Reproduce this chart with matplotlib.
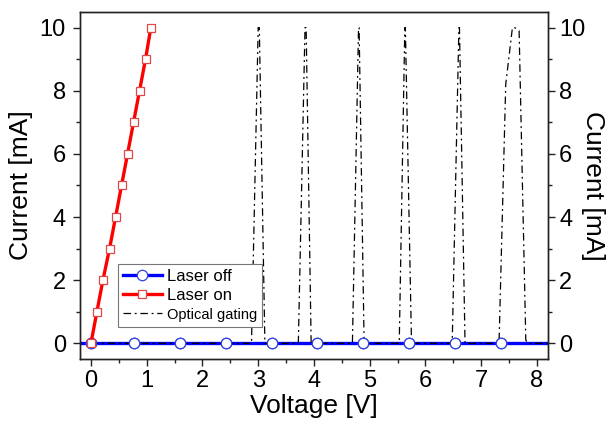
import matplotlib.pyplot as plt
from matplotlib.ticker import MultipleLocator

plt.rcParams['font.family'] = ['Liberation Sans', 'DejaVu Sans']

# laser off: flat zero current, markers
off_v = [-0.3, 0.0, 0.78, 1.59, 2.42, 3.24, 4.05, 4.88, 5.70, 6.53, 7.35, 8.5]
off_i = [0, 0, 0, 0, 0, 0, 0, 0, 0, 0, 0, 0]

# laser on
on_v = [0.0, 0.107, 0.215, 0.334, 0.442, 0.549, 0.657, 0.764, 0.872, 0.979, 1.075]
on_i = [0, 1, 2, 3, 4, 5, 6, 7, 8, 9, 10]

# optical gating spikes
gate_v = [0.0, 2.88, 3.00, 3.02, 3.12,
          3.72, 3.84, 3.86, 3.95,
          4.69, 4.80, 4.81, 4.90,
          5.53, 5.63, 5.64, 5.75,
          6.48, 6.60, 6.61, 6.71,
          7.32, 7.44, 7.56, 7.60, 7.68, 7.80, 7.84, 8.5]
gate_i = [0, 0, 10, 10, 0,
          0, 10, 10, 0,
          0, 10, 10, 0,
          0, 10, 10, 0,
          0, 10, 10, 0,
          0, 8.2, 10, 10, 9.9, 0.1, 0, 0]

fig = plt.figure(figsize=(6.09, 4.22), dpi=100)
ax = fig.add_axes([0.131, 0.149, 0.769, 0.823])

mk = list(range(1, len(off_v) - 1))
ax.plot(off_v, off_i, color='#0000ff', lw=2.4, marker='o', ms=7.5,
        mfc='white', mec='#3344dd', mew=0.9, markevery=mk,
        label='Laser off', zorder=2)
ax.plot(gate_v, gate_i, color='black', lw=0.9, ls=(0, (6, 3, 1.5, 3)),
        label='Optical gating', zorder=3)
ax.plot([off_v[i] for i in mk], [off_i[i] for i in mk], ls='none',
        marker='o', ms=7.5, mfc='white', mec='#3344dd', mew=0.9, zorder=4)
ax.plot(on_v, on_i, color='#ff0000', lw=2.4, marker='s', ms=6,
        mfc='white', mec='#e04848', mew=0.9, label='Laser on', zorder=5)

ax.set_xlim(-0.2, 8.2)
ax.set_ylim(-0.5, 10.5)
ax.xaxis.set_major_locator(MultipleLocator(1))
ax.xaxis.set_minor_locator(MultipleLocator(0.5))
ax.yaxis.set_major_locator(MultipleLocator(2))
ax.yaxis.set_minor_locator(MultipleLocator(1))
ax.tick_params(which='both', direction='out', top=False, right=False,
               labelsize=17, width=1, color='#222222')
ax.tick_params(which='major', length=5, pad=5)
ax.tick_params(which='minor', length=3)
ax.tick_params(axis='x', which='major', pad=3)
ax.set_xlabel('Voltage [V]', fontsize=19, labelpad=1)
ax.set_ylabel('Current [mA]', fontsize=19, labelpad=5)

ax2 = ax.twinx()
ax2.set_ylim(-0.5, 10.5)
ax2.yaxis.set_major_locator(MultipleLocator(2))
ax2.yaxis.set_minor_locator(MultipleLocator(1))
ax2.tick_params(which='both', direction='out', labelsize=17, width=1,
                color='#222222')
ax2.tick_params(which='major', length=5, pad=3)
ax2.tick_params(which='minor', length=3)
ax2.set_ylabel('Current [mA]', fontsize=19, rotation=270, labelpad=14)

for a in (ax, ax2):
    for s in a.spines.values():
        s.set_linewidth(1.0)
        s.set_color('#222222')

h, l = ax.get_legend_handles_labels()
order = [0, 2, 1]
leg = ax.legend([h[i] for i in order], [l[i] for i in order],
                loc='lower left', bbox_to_anchor=(0.082, 0.093),
                borderaxespad=0, fontsize=12, handlelength=2.3,
                handletextpad=0.3, labelspacing=0.25, borderpad=0.3,
                fancybox=False, framealpha=1, edgecolor='#777777')
leg.get_frame().set_linewidth(0.8)
leg.get_texts()[2].set_fontsize(10.5)

plt.savefig('out.png', dpi=100)
